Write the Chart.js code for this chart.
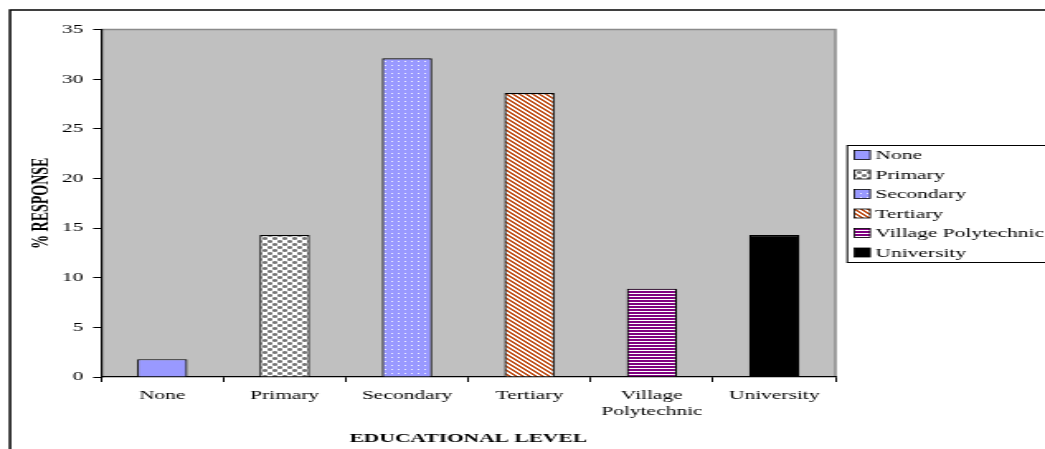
<!DOCTYPE html>
<html>
<head>
<meta charset="utf-8">
<script src="https://cdn.jsdelivr.net/npm/chart.js@4.4.1/dist/chart.umd.min.js"></script>
<style>
  html, body { margin: 0; padding: 0; background: #fff; overflow: hidden; }
</style>
</head>
<body>
<canvas id="chart" style="display:block;width:1045px;height:449px"></canvas>
<script>
// ── Datos ─────────────────────────────────────────────────────
const categories = ['None', 'Primary', 'Secondary', 'Tertiary', 'Village Polytechnic', 'University'];
const tickLabels = ['None', 'Primary', 'Secondary', 'Tertiary', ['Village', 'Polytechnic'], 'University'];
const responses = [1.8, 14.3, 32.1, 28.6, 8.9, 14.3];
const yTicks = [0, 5, 10, 15, 20, 25, 30, 35];

// el original está estirado en horizontal: se dibuja estrecho y el CSS lo ensancha
const S = 1.65;
const W = Math.round(1045 / S);
const H = 449;
const canvas = document.getElementById('chart');
canvas.width = W; canvas.height = H;

const FONT = "'Liberation Serif', 'Times New Roman', serif";

// ── Tramas ────────────────────────────────────────────────────
function pattern(w, h, paint) {
    const c = document.createElement('canvas');
    c.width = w; c.height = h;
    const g = c.getContext('2d');
    paint(g);
    return canvas.getContext('2d').createPattern(c, 'repeat');
}
const fills = [
    '#9999FF',
    // cuadros grises redondeados sobre blanco
    pattern(6, 6, g => {
        g.fillStyle = '#fff'; g.fillRect(0, 0, 6, 6);
        g.fillStyle = '#787878';
        g.fillRect(0, 0, 3, 3); g.fillRect(3, 3, 3, 3);
        g.fillStyle = '#a8a8a8';
        [[0, 0], [2, 0], [0, 2], [2, 2], [3, 3], [5, 3], [3, 5], [5, 5]].forEach(([x, y]) => g.fillRect(x, y, 1, 1));
    }),
    pattern(4, 4, g => {
        g.fillStyle = '#9999FF'; g.fillRect(0, 0, 4, 4);
        g.fillStyle = 'rgba(255,255,255,0.85)'; g.fillRect(1, 1, 1, 1);
    }),
    pattern(4, 4, g => {
        g.fillStyle = '#fff'; g.fillRect(0, 0, 4, 4);
        g.fillStyle = '#C0501A';
        for (let i = 0; i < 4; i++) { g.fillRect(i, i, 1, 1); g.fillRect((i + 1) % 4, i, 1, 1); }
    }),
    pattern(1, 3, g => {
        g.fillStyle = '#800080'; g.fillRect(0, 0, 1, 2);
        g.fillStyle = '#fff'; g.fillRect(0, 2, 1, 1);
    }),
    '#000000'
];

// ── Marco, fondo gris y leyenda ───────────────────────────────
const decor = {
    id: 'decor',
    beforeDraw(chart) {
        const { ctx, chartArea: a } = chart;
        ctx.save();
        ctx.fillStyle = '#fff'; ctx.fillRect(0, 0, W, H);
        ctx.fillStyle = '#C0C0C0'; ctx.fillRect(a.left, a.top, a.right - a.left, a.bottom - a.top);
        ctx.strokeStyle = '#8a8a8a'; ctx.lineWidth = 1.5;
        ctx.beginPath();
        ctx.moveTo(a.left, a.top); ctx.lineTo(a.right, a.top); ctx.lineTo(a.right, a.bottom);
        ctx.stroke();
        ctx.strokeStyle = '#000'; ctx.lineWidth = 1.5;
        ctx.beginPath();
        ctx.moveTo(W + 2, 10); ctx.lineTo(10 / S, 10); ctx.lineTo(10 / S, H + 2);
        ctx.stroke();
        ctx.restore();
    },
    afterDraw(chart) {
        const ctx = chart.ctx;
        const x0 = 846 / S, y0 = 145, rowH = 19.5;
        ctx.save();
        ctx.fillStyle = '#fff'; ctx.fillRect(x0, y0, W - x0 + 2, 117);
        ctx.strokeStyle = '#000'; ctx.lineWidth = 1;
        ctx.strokeRect(x0 + 0.5, y0 + 0.5, W, 117);
        ctx.font = `13px ${FONT}`;
        ctx.textBaseline = 'middle';
        categories.forEach((c, i) => {
            const cy = y0 + 10 + i * rowH;
            ctx.fillStyle = fills[i];
            ctx.fillRect(854 / S, cy - 4.5, 9.5, 9);
            ctx.strokeStyle = '#000'; ctx.lineWidth = 0.8;
            ctx.strokeRect(854 / S, cy - 4.5, 9.5, 9);
            ctx.fillStyle = '#000';
            ctx.fillText(c, 875 / S, cy + 1);
        });
        ctx.restore();
    }
};

// ── Gráfico de barras ─────────────────────────────────────────
const plotLeft = 101 / S, plotRight = 835 / S;
new Chart(canvas.getContext('2d'), {
    type: 'bar',
    data: {
        labels: tickLabels,
        datasets: [{
            data: responses,
            backgroundColor: fills,
            borderColor: '#000', borderWidth: 1.2,
            barPercentage: 0.41, categoryPercentage: 1
        }]
    },
    options: {
        responsive: false, animation: false, devicePixelRatio: 1, events: [],
        layout: { padding: { top: 29.5, right: W - plotRight, bottom: 0, left: 0 } },
        plugins: { legend: { display: false }, tooltip: { enabled: false } },
        scales: {
            x: {
                afterFit: s => { s.height = H - 377; },
                grid: { drawOnChartArea: false, tickLength: 5, color: '#000', offset: true },
                border: { color: '#000', width: 1.2 },
                ticks: { color: '#000', padding: 6, maxRotation: 0, font: { family: FONT, size: 13 } },
                title: {
                    display: true, text: 'EDUCATIONAL LEVEL', color: '#000',
                    font: { family: FONT, size: 13, weight: 'bold' }, padding: { top: 0, bottom: 3 }
                }
            },
            y: {
                min: yTicks[0], max: yTicks[yTicks.length - 1],
                afterFit: s => { s.width = plotLeft; },
                afterBuildTicks: s => { s.ticks = yTicks.map(v => ({ value: v })); },
                grid: { drawOnChartArea: false, tickLength: 4.8, color: '#000' },
                border: { color: '#000', width: 1.2 },
                ticks: { color: '#000', padding: 6, font: { family: FONT, size: 13 } },
                title: {
                    display: true, text: '% RESPONSE', color: '#000',
                    font: { family: FONT, size: 14, weight: 'bold' }, padding: { top: 16.5, bottom: 0 }
                }
            }
        }
    },
    plugins: [decor]
});
</script>
</body>
</html>
